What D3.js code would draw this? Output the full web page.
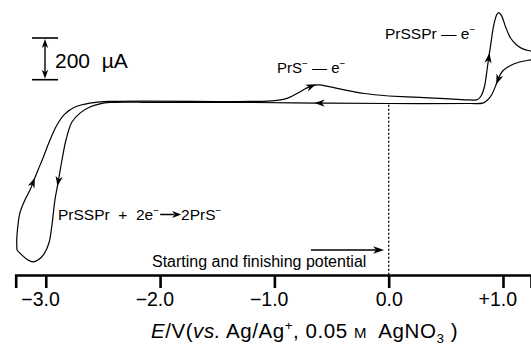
<!DOCTYPE html>
<html><head><meta charset="utf-8">
<script src="https://cdn.jsdelivr.net/npm/d3@7"></script>
<style>
html,body{margin:0;padding:0;background:#fff;}
svg{display:block;font-family:"Liberation Sans",Arial,Helvetica,sans-serif;}
text{white-space:pre;}
</style></head><body>
<svg id="chart" width="531" height="352"></svg>
<script>
// Cyclic voltammogram, scan order: start 0 V -> +1.36 V -> -3.26 V -> 0 V
const potential = [
  0.000, 0.271, 0.533, 0.708, 0.778, 0.813, 0.839, 0.865, 0.892, 0.918,
  0.944, 0.962, 0.988, 1.023, 1.066, 1.119, 1.180, 1.241, 1.364, 1.364,
  1.241, 1.145, 1.058, 0.997, 0.962, 0.935, 0.900, 0.865, 0.822, 0.708,
  0.000, -0.621, -1.215, -2.089, -2.308, -2.439, -2.526, -2.614, -2.701, -2.771,
  -2.823, -2.858, -2.893, -2.920, -2.946, -2.972, -3.016, -3.068, -3.112, -3.156,
  -3.208, -3.252, -3.254, -3.246, -3.226, -3.182, -3.138, -3.103, -3.068, -3.024,
  -2.963, -2.902, -2.832, -2.745, -2.614, -2.439, -1.215, -0.997, -0.883, -0.795,
  -0.726, -0.664, -0.603, -0.533, -0.385, -0.210, 0.000
];
const current = [
  24, 17, 10, 5, 7, 29, 72, 168, 269, 360,
  412, 424, 408, 355, 302, 269, 249, 240, 225, 206,
  197, 187, 168, 144, 110, 72, 29, 5, -10, -12,
  -12, -10, -7, -7, -5, -7, -14, -29, -58, -101,
  -187, -283, -393, -475, -595, -681, -734, -763, -772, -763,
  -739, -715, -667, -609, -537, -475, -427, -379, -331, -273,
  -187, -115, -62, -29, -10, -2, -2, 2, 14, 38,
  60, 74, 77, 70, 53, 36, 24
];
// switching points of the scan (indices) – the trace has corners there
const vertexIndex = [18, 51];
// arrows on the trace: [segment index, fraction along segment]
const arrowSegments = [[7, 0.4], [24, 0.25], [30, 0.98], [41, 0.95], [56, 0.8], [70, 0.85]];
const xTicks = [-3, -2, -1, 0, 1];
const xTickLabels = ["\u22123.0", "\u22122.0", "\u22121.0", "0.0", "+1.0"];
const xDomain = [-3.263, 1.245];
const scaleBarCurrent = 200; // µA
const startMarker = [-0.68, -0.04]; // potential range of the "starting" arrow

const svg = d3.select("#chart");
const x = d3.scaleLinear().domain(xDomain).range([15.7, 531]);
const y = d3.scaleLinear().domain([0, 200]).range([101, 59.3]);
const axisY = 275;

// trace, drawn in pieces between switching potentials
const pts = potential.map((e, i) => [x(e), y(current[i])]);
const cuts = [0, ...vertexIndex, pts.length - 1];
const line = d3.line().curve(d3.curveCatmullRom.alpha(0.5));
for (let k = 0; k < cuts.length - 1; k++) {
  svg.append("path")
    .attr("d", line(pts.slice(cuts[k], cuts[k + 1] + 1)))
    .attr("fill", "none").attr("stroke", "#000").attr("stroke-width", 1.2)
    .attr("stroke-linejoin", "round");
}

function arrowHead(g, px, py, ang, len, half) {
  g.append("path")
    .attr("d", `M0,0 L${-len},${-half} L${-len*0.72},0 L${-len},${half} Z`)
    .attr("transform", `translate(${px},${py}) rotate(${ang*180/Math.PI})`)
    .attr("fill", "#000");
}
arrowSegments.forEach(([i, t]) => {
  const a = pts[i], b = pts[i + 1];
  const px = a[0] + (b[0] - a[0]) * t, py = a[1] + (b[1] - a[1]) * t;
  const ang = Math.atan2(b[1] - a[1], b[0] - a[0]);
  arrowHead(svg, px + 4.5 * Math.cos(ang), py + 4.5 * Math.sin(ang), ang, 10, 3.6);
});

// dotted line at 0 V
svg.append("line")
  .attr("x1", x(0)).attr("x2", x(0))
  .attr("y1", y(-18)).attr("y2", axisY)
  .attr("stroke", "#000").attr("stroke-width", 1.3).attr("stroke-dasharray", "2,2");

// x axis
const axis = d3.axisBottom(x).tickValues(xTicks).tickSize(13).tickSizeOuter(13)
  .tickFormat((d, i) => xTickLabels[i]);
const ga = svg.append("g").attr("transform", `translate(0,${axisY})`).call(axis);
ga.select(".domain").attr("stroke", "#000").attr("stroke-width", 2.6);
ga.selectAll(".tick line").attr("stroke", "#000").attr("stroke-width", 2.6);
ga.selectAll(".tick text")
  .attr("font-size", 19.5).attr("fill", "#000")
  .attr("font-family", "Liberation Sans, Arial, sans-serif")
  .attr("y", 31).attr("dy", 0)
  .each(function () {
    const s = this.textContent;
    if (s[0] === "\u2212" || s[0] === "+") {
      const w = this.getSubStringLength(0, 1);
      d3.select(this).attr("dx", -w / 2);
    }
  });

// axis title
const title = svg.append("text").attr("x", 151).attr("y", 338).attr("font-size", 20.5)
  .attr("letter-spacing", 0.55);
title.append("tspan").attr("font-style", "italic").text("E");
title.append("tspan").text("/V(");
title.append("tspan").attr("font-style", "italic").text("vs.");
title.append("tspan").text(" Ag/Ag");
title.append("tspan").attr("font-size", 13.5).attr("dy", -8).text("+");
title.append("tspan").attr("dy", 8).text(", 0.05 ");
title.append("tspan").attr("font-size", 15).text("M");
title.append("tspan").text("  AgNO");
title.append("tspan").attr("font-size", 13.5).attr("dy", 5).text("3");
title.append("tspan").attr("dy", -5).text(" )");

// starting marker arrow and label
const sy = 250;
svg.append("line").attr("x1", x(startMarker[0])).attr("x2", x(startMarker[1]) - 6)
  .attr("y1", sy).attr("y2", sy).attr("stroke", "#000").attr("stroke-width", 1.6);
arrowHead(svg, x(startMarker[1]), sy, 0, 11, 3.8);
svg.append("text").attr("x", 152).attr("y", 266.5).attr("font-size", 16)
  .text("Starting and finishing potential");

// scale bar
const sbTop = 38, sbBot = sbTop + (y(0) - y(scaleBarCurrent));
const sbx = 45;
svg.append("line").attr("x1", sbx).attr("x2", sbx).attr("y1", sbTop + 4).attr("y2", sbBot - 4)
  .attr("stroke", "#000").attr("stroke-width", 1.4);
[sbTop, sbBot].forEach(yy => {
  svg.append("line").attr("x1", 32).attr("x2", 58).attr("y1", yy).attr("y2", yy)
    .attr("stroke", "#000").attr("stroke-width", 1.6);
});
arrowHead(svg, sbx, sbTop + 1, -Math.PI / 2, 9, 3.2);
arrowHead(svg, sbx, sbBot - 1, Math.PI / 2, 9, 3.2);
svg.append("text").attr("x", 55).attr("y", 68.3).attr("font-size", 21).text("200  \u00b5A");

// reaction labels
const l1 = svg.append("text").attr("x", 385).attr("y", 39).attr("font-size", 15.5);
l1.append("tspan").text("PrSSPr \u2014 e");
l1.append("tspan").attr("font-size", 10).attr("dy", -6).text("\u2212");

const l2 = svg.append("text").attr("x", 277).attr("y", 73).attr("font-size", 15);
l2.append("tspan").text("PrS");
l2.append("tspan").attr("font-size", 10).attr("dy", -6).text("\u2212");
l2.append("tspan").attr("dy", 6).text(" \u2014 e");
l2.append("tspan").attr("font-size", 10).attr("dy", -6).text("\u2212");

const l3 = svg.append("text").attr("x", 58).attr("y", 220).attr("font-size", 15.5);
l3.append("tspan").text("PrSSPr  +  2e");
const l3sup = l3.append("tspan").attr("font-size", 10).attr("dy", -6).text("\u2212");
l3.append("tspan").attr("dy", 6).attr("dx", 22).text("2PrS");
l3.append("tspan").attr("font-size", 10).attr("dy", -6).text("\u2212");
// reaction arrow between "2e-" and "2PrS-"
const bb = l3sup.node().getBBox();
const ax0 = bb.x + bb.width + 1, ay = 220 - 5.5;
svg.append("line").attr("x1", ax0).attr("x2", ax0 + 14).attr("y1", ay).attr("y2", ay)
  .attr("stroke", "#000").attr("stroke-width", 1.5);
arrowHead(svg, ax0 + 21, ay, 0, 9, 3.5);
</script>
</body></html>
